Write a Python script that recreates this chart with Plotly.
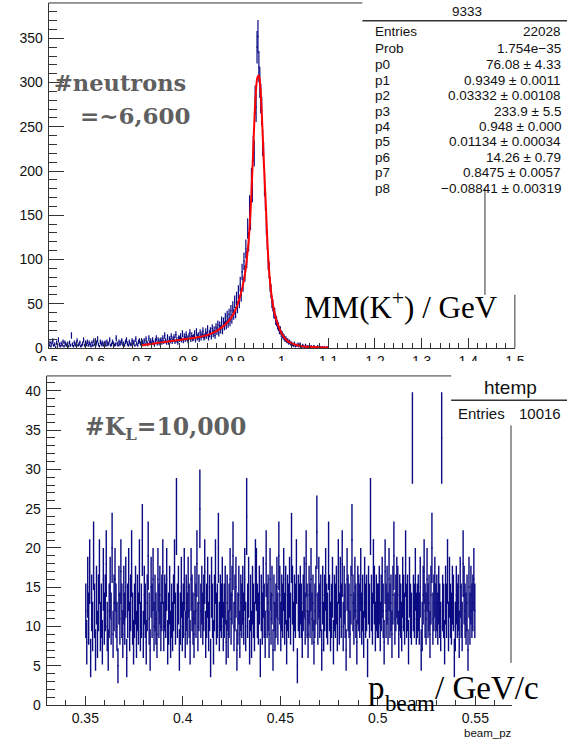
import plotly.graph_objects as go

W, H = 577, 746

# ---------------- top histogram: MM(K+) ----------------
mm_lo = 0.5
mm_w = 0.002
mm_counts = [
    3, 6, 2, 5, 8, 3, 4, 1, 6, 3, 9, 4, 2, 5, 3, 7, 2, 6, 4, 3,
    5, 2, 6, 3, 14, 4, 2, 6, 3, 5, 8, 3, 4, 6, 2, 3, 5, 9, 3, 6,
    4, 7, 3, 6, 4, 2, 6, 3, 8, 4, 3, 6, 10, 4, 2, 7, 4, 6, 3, 5,
    6, 3, 7, 4, 5, 9, 3, 4, 7, 5, 3, 4, 11, 5, 3, 7, 4, 6, 8, 4,
    5, 3, 7, 9, 5, 3, 7, 4, 4, 8, 5, 7, 3, 10, 5, 3, 7, 8, 5, 4,
    7, 4, 8, 4, 10, 6, 4, 11, 6, 8, 5, 9, 6, 3, 8, 11, 5, 9, 5, 8,
    9, 6, 11, 7, 14, 8, 6, 12, 6, 10, 8, 13, 7, 10, 12, 7, 15, 9, 6, 11,
    10, 13, 9, 16, 8, 13, 10, 15, 11, 8, 13, 17, 10, 14, 11, 12, 16, 9, 18, 12,
    14, 10, 17, 12, 15, 19, 12, 13, 18, 14, 21, 12, 16, 19, 13, 22, 16, 20, 14, 23,
    19, 26, 17, 25, 21, 30, 20, 29, 25, 34, 26, 36, 28, 38, 30, 42, 33, 46, 38, 52,
    40, 56, 46, 63, 52, 72, 60, 86, 72, 98, 84, 112, 100, 135, 120, 160, 145, 190, 178, 225,
    220, 280, 272, 340, 352, 318, 300, 282, 268, 232, 218, 185, 168, 140, 122, 98, 88, 72, 64, 52,
    48, 40, 39, 32, 30, 26, 24, 20, 20, 16, 15, 13, 12, 10, 10, 8, 8, 6, 7, 5,
    5, 4, 3, 5, 2, 3, 3, 4, 2, 4, 2, 1, 3, 2, 1, 3, 1, 2, 1, 2,
    1, 2, 1, 0, 2, 1, 0, 1, 2, 0, 1, 1, 0, 1, 0, 1, 0, 0, 1, 0,
]

fit_x = [0.70, 0.72, 0.74, 0.76, 0.78, 0.80, 0.82, 0.84, 0.86, 0.88,
         0.89, 0.90, 0.91, 0.92, 0.925, 0.93, 0.935, 0.94, 0.944, 0.948,
         0.951, 0.954, 0.958, 0.962, 0.966, 0.97, 0.974, 0.978, 0.982, 0.986,
         0.99, 0.995, 1.0, 1.01, 1.02, 1.03, 1.04, 1.06, 1.08, 1.10]
fit_y = [3, 4.5, 6, 7.5, 9, 10.5, 12, 14.5, 19, 27,
         33, 42, 57, 80, 100, 128, 175, 240, 285, 306,
         308, 296, 255, 205, 160, 112, 80, 60, 46, 36,
         29, 22, 16, 9, 5.5, 3.5, 2.2, 1.2, 0.7, 0.4]

top_xticks = [0.5, 0.6, 0.7, 0.8, 0.9, 1.0, 1.1, 1.2, 1.3, 1.4, 1.5]
top_xlabels = ["0.5", "0.6", "0.7", "0.8", "0.9", "1", "1.1", "1.2", "1.3", "1.4", "1.5"]
top_yticks = [0, 50, 100, 150, 200, 250, 300, 350]

stats_title = "9333"
stats_names = ["Entries", "Prob", "p0", "p1", "p2", "p3", "p4", "p5", "p6", "p7", "p8"]
stats_values = ["22028", "1.754e\u221235", "76.08 \u00b1 4.33", "0.9349 \u00b1 0.0011",
                "0.03332 \u00b1 0.00108", "233.9 \u00b1 5.5", "0.948 \u00b1 0.000",
                "0.01134 \u00b1 0.00034", "14.26 \u00b1 0.79", "0.8475 \u00b1 0.0057",
                "\u22120.08841 \u00b1 0.00319"]

# ---------------- bottom histogram: beam_pz ----------------
bp_lo = 0.35
bp_w = 0.0005
bp_counts = [
    12, 8, 15, 11, 17, 6, 13, 10, 19, 12, 7, 14, 9, 13, 17, 10, 12, 8, 16, 11,
    13, 18, 10, 7, 12, 15, 11, 20, 9, 13, 16, 12, 10, 5, 14, 11, 17, 12, 9, 14,
    11, 15, 6, 12, 16, 10, 13, 18, 11, 8, 12, 14, 9, 13, 11, 17, 10, 12, 21, 9,
    14, 12, 8, 13, 19, 11, 7, 15, 12, 16, 10, 13, 11, 9, 16, 12, 14, 10, 13, 17,
    10, 13, 12, 16, 8, 11, 14, 9, 12, 10, 13, 17, 11, 24, 12, 14, 7, 11, 15, 10,
    12, 16, 9, 13, 11, 15, 12, 8, 16, 13, 11, 9, 14, 12, 18, 10, 13, 25, 12, 14,
    11, 13, 17, 9, 12, 15, 10, 13, 6, 15, 12, 8, 13, 17, 11, 12, 20, 10, 13, 12,
    15, 10, 12, 14, 8, 13, 9, 12, 16, 11, 14, 19, 10, 13, 15, 7, 11, 14, 9, 13,
    12, 14, 11, 16, 10, 24, 12, 15, 8, 13, 9, 14, 12, 10, 17, 16, 12, 11, 14, 6,
    13, 11, 15, 12, 9, 18, 12, 13, 9, 16, 11, 14, 7, 13, 10, 12, 15, 11, 19, 14,
    10, 13, 12, 16, 11, 14, 8, 13, 12, 15, 11, 20, 14, 10, 13, 12, 17, 5, 13, 12,
    14, 12, 9, 13, 15, 11, 18, 12, 9, 14, 12, 16, 11, 13, 8, 12, 14, 22, 11, 15,
    12, 13, 7, 14, 10, 13, 16, 12, 11, 19, 13, 10, 12, 15, 8, 13, 12, 14, 10, 17,
    11, 15, 12, 18, 10, 14, 12, 7, 16, 13, 12, 9, 14, 21, 13, 11, 15, 12, 8, 14,
    13, 12, 16, 11, 13, 9, 15, 12, 13, 6, 14, 12, 24, 13, 11, 17, 14, 10, 13, 12,
    12, 14, 10, 13, 15, 12, 8, 17, 12, 14, 11, 16, 12, 13, 9, 14, 19, 11, 13, 15,
    14, 9, 13, 12, 10, 15, 13, 11, 18, 12, 13, 8, 15, 12, 11, 34, 13, 12, 16, 11,
    12, 13, 11, 15, 7, 10, 14, 17, 12, 11, 16, 12, 13, 9, 14, 20, 11, 13, 15, 12,
    13, 11, 14, 12, 10, 34, 13, 12, 8, 14, 12, 17, 10, 15, 12, 11, 14, 13, 6, 10,
    14, 12, 13, 9, 15, 12, 10, 18, 14, 12, 11, 13, 7, 15, 11, 14, 12, 13, 16, 12,
]

bot_xticks = [0.35, 0.40, 0.45, 0.50, 0.55]
bot_xlabels = ["0.35", "0.4", "0.45", "0.5", "0.55"]
bot_yticks = [0, 5, 10, 15, 20, 25, 30, 35, 40]

# ---------------- helpers ----------------
def px(x):
    return x / W

def py(y):
    return 1 - y / H

DATA = "#0a0a82"
AX = "#333333"
SANS = "Liberation Sans, Arial, sans-serif"

mm_x = [mm_lo + (i + 0.5) * mm_w for i in range(len(mm_counts))]
mm_err = [c ** 0.5 for c in mm_counts]
bp_x = [bp_lo + (i + 0.5) * bp_w for i in range(len(bp_counts))]
bp_err = [c ** 0.5 for c in bp_counts]

fig = go.Figure()

fig.add_trace(go.Scatter(
    x=mm_x, y=mm_counts, mode="markers", xaxis="x", yaxis="y",
    marker=dict(size=1, color=DATA),
    error_y=dict(type="data", array=mm_err, visible=True, thickness=1.2, width=0, color=DATA),
    error_x=dict(type="constant", value=mm_w / 2, visible=True, thickness=1.2, width=0, color=DATA),
    hoverinfo="skip"))
fig.add_trace(go.Scatter(
    x=fit_x, y=fit_y, mode="lines", xaxis="x", yaxis="y",
    line=dict(color="#ff0000", width=2, shape="spline"), hoverinfo="skip"))

fig.add_trace(go.Scatter(
    x=bp_x, y=bp_counts, mode="markers", xaxis="x2", yaxis="y2",
    marker=dict(size=1, color=DATA),
    error_y=dict(type="data", array=bp_err, visible=True, thickness=1.4, width=0, color=DATA),
    error_x=dict(type="constant", value=bp_w / 2, visible=True, thickness=1.5, width=0, color=DATA),
    hoverinfo="skip"))

axis_common = dict(showline=True, linecolor=AX, linewidth=1, showgrid=False, zeroline=False,
                   ticks="inside", tickcolor=AX, tickwidth=1,
                   tickfont=dict(family=SANS, size=14, color="#111111"))

fig.update_layout(
    width=W, height=H, autosize=False,
    margin=dict(l=0, r=0, t=0, b=0),
    paper_bgcolor="white", plot_bgcolor="white",
    showlegend=False,
    xaxis=dict(domain=[px(40), px(523)], range=[0.5, 1.5], anchor="y",
               tickvals=top_xticks, ticktext=top_xlabels, ticklen=10, ticklabelstandoff=0,
               minor=dict(dtick=0.02, tick0=0.5, ticks="inside", ticklen=5, tickcolor=AX, showgrid=False),
               **axis_common),
    yaxis=dict(domain=[py(351.7), py(3)], range=[0, 390], anchor="x",
               tickvals=top_yticks, ticklen=15, ticklabelstandoff=2,
               minor=dict(dtick=10, tick0=0, ticks="inside", ticklen=8, tickcolor=AX, showgrid=False),
               **axis_common),
    xaxis2=dict(domain=[px(38), px(520)], range=[0.3302, 0.5688], anchor="y2",
                tickvals=bot_xticks, ticktext=bot_xlabels, ticklen=9, ticklabelstandoff=0,
                minor=dict(dtick=0.01, tick0=0.35, ticks="inside", ticklen=5, tickcolor=AX, showgrid=False),
                **axis_common),
    yaxis2=dict(domain=[py(712.7), py(380)], range=[0, 41.9], anchor="x2",
                tickvals=bot_yticks, ticklen=14, ticklabelstandoff=2,
                minor=dict(dtick=1, tick0=0, ticks="inside", ticklen=8, tickcolor=AX, showgrid=False),
                **axis_common),
)

def hline(x0, x1, y, width=1, color=AX):
    fig.add_shape(type="line", xref="paper", yref="paper", x0=px(x0), x1=px(x1),
                  y0=py(y), y1=py(y), line=dict(color=color, width=width), layer="above")

def vline(x, y0, y1, width=1, color=AX):
    fig.add_shape(type="line", xref="paper", yref="paper", x0=px(x), x1=px(x),
                  y0=py(y0), y1=py(y1), line=dict(color=color, width=width), layer="above")

# clip lower part of the top panel's x tick labels (pasted bottom image)
fig.add_shape(type="rect", xref="paper", yref="paper", x0=0, x1=1, y0=py(378), y1=py(365),
              fillcolor="white", line=dict(width=0), layer="above")

# top panel frame pieces and stats box
hline(40, 365, 3)
hline(365, 577, 21, width=1.5)
vline(492, 190, 298)
vline(523, 298, 351.7)

# bottom panel frame pieces and stats box
hline(38, 457, 380)
hline(457, 577, 404.5, width=1.5)
vline(519, 430, 670)

ann = []

def text(x, y, s, size, xanchor="left", yanchor="middle", family=SANS, color="#111111", bold=False):
    ann.append(dict(x=px(x), y=py(y), xref="paper", yref="paper", text=s, showarrow=False,
                    xanchor=xanchor, yanchor=yanchor, borderpad=0,
                    font=dict(family=family, size=size, color=color, weight="bold" if bold else "normal")))

text(473, 12, stats_title, 13.5, xanchor="center")
rows_y = [32, 49] + [65.7 + 15.55 * i for i in range(9)]
for name, val, yy in zip(stats_names, stats_values, rows_y):
    text(377, yy, name, 13.5)
    text(572, yy, val, 13.5, xanchor="right")

text(518, 392, "htemp", 19, xanchor="center")
text(463, 418, "Entries", 15)
text(572, 418, "10016", 15, xanchor="right")

GREY = "#5f5f5f"
SLAB = "DejaVu Serif, serif"
text(45, 84, "#neutrons", 22.5, family=SLAB, color=GREY, bold=True)
text(71, 117, "=~6,600", 23, family=SLAB, color=GREY, bold=True)
text(77, 433, "#K<sub>L</sub>=10,000", 23.5, family=SLAB, color=GREY, bold=True)

SERIF = "Liberation Serif, Times New Roman, serif"
text(304, 309, "MM(K<sup>+</sup>) / GeV", 31, family=SERIF, color="#000000")
# p_beam / GeV/c, built from three pieces so the subscript sits low like the reference
text(370, 695, "p", 33, family=SERIF, color="#000000")
text(387, 711, "beam", 23, family=SERIF, color="#000000")
text(439, 695, "/ GeV/c", 33, family=SERIF, color="#000000")

text(521, 741, "beam_pz", 11.5, xanchor="right", yanchor="middle")

fig.update_layout(annotations=ann)

fig.write_html("out.html")
